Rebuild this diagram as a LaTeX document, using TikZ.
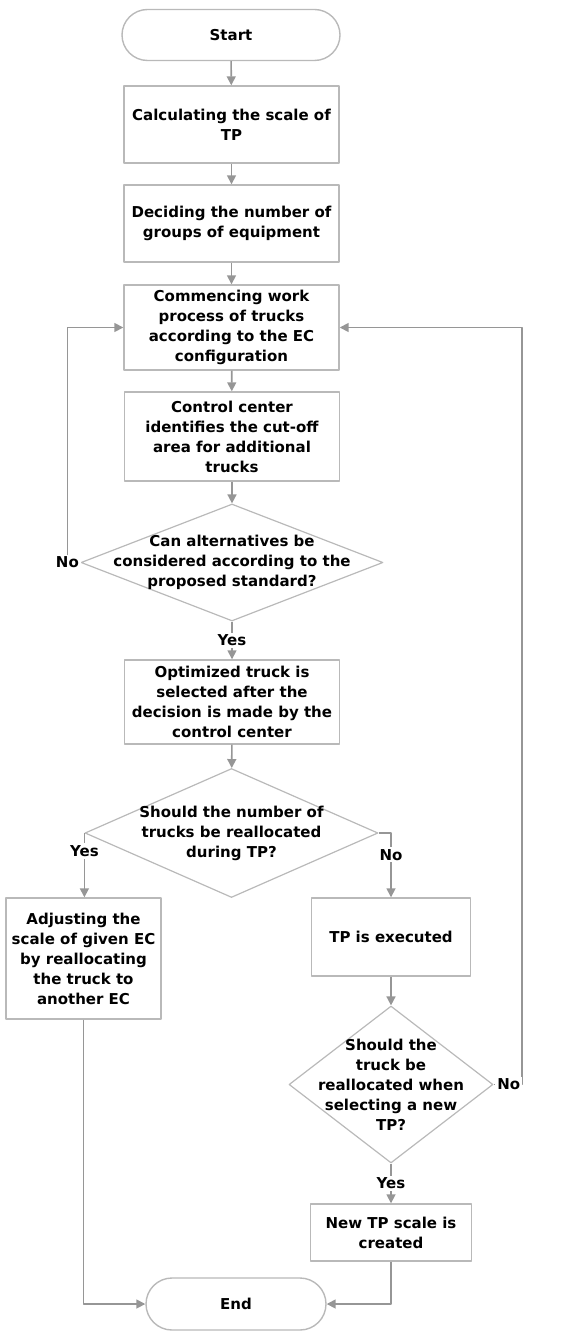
\documentclass[tikz,border=0pt]{standalone}
\usepackage{fontspec}
\setmainfont{DejaVu Sans}
\usetikzlibrary{arrows.meta,shapes.geometric}
\definecolor{linegray}{RGB}{150,150,150}
\definecolor{boxgray}{RGB}{185,185,185}
\begin{document}
\begin{tikzpicture}[x=0.5pt,y=-0.5pt, font=\fontsize{7.5}{10}\selectfont\bfseries, line join=round,
	box/.style={draw=boxgray, line width=0.7pt, align=center, inner sep=0pt, minimum width=107.5pt},
	term/.style={box, rounded corners=12.75pt, minimum width=109pt, minimum height=25.5pt},
	decision/.style={draw=boxgray, line width=0.6pt, diamond, inner sep=0pt},
	dtext/.style={align=center, inner sep=0pt},
	line/.style={draw=linegray, line width=0.8pt, -{Triangle[length=4.5pt,width=4.5pt]}},
	lbl/.style={fill=white, inner sep=1pt}]
	\useasboundingbox (0,0) rectangle (576,1331);
	% main column
	\node[term] (start) at (231,35) {Start};
	\node[box, minimum height=38.5pt] (b1) at (231.5,124.5) {Calculating the scale of\\TP};
	\node[box, minimum height=38.5pt] (b2) at (231.5,223.5) {Deciding the number of\\groups of equipment};
	\node[box, minimum height=42.5pt] (b3) at (231.5,327.5) {Commencing work\\process of trucks\\according to the EC\\configuration};
	\node[box, minimum height=44.5pt] (b4) at (232,436.5) {Control center\\identifies the cut-off\\area for additional\\trucks};
	\node[decision, minimum width=151pt, minimum height=58.5pt,
		label={[dtext]center:{Can alternatives be\\considered according to the\\proposed standard?}}] (d1) at (232,562.5) {};
	\node[box, minimum height=42pt] (b5) at (232,702) {Optimized truck is\\selected after the\\decision is made by the\\control center};
	\node[decision, minimum width=146.5pt, minimum height=64.5pt,
		label={[dtext]center:{Should the number of\\trucks be reallocated\\during TP?}}] (d2) at (231.5,833) {};
	% branches
	\node[box, minimum width=77.5pt, minimum height=60.5pt] (b6) at (83.5,958.5) {Adjusting the\\scale of given EC\\by reallocating\\the truck to\\another EC};
	\node[box, minimum width=79.5pt, minimum height=39pt] (b7) at (391,937) {TP is executed};
	\node[decision, minimum width=102pt, minimum height=78.5pt,
		label={[dtext]center:{Should the\\truck be\\reallocated when\\selecting a new\\TP?}}] (d3) at (391,1084.5) {};
	\node[box, minimum width=80.5pt, minimum height=28.5pt] (b8) at (391,1232.5) {New TP scale is\\created};
	\node[term, minimum width=90pt, minimum height=26pt, rounded corners=13pt] (end) at (236,1304) {End};
	% connectors
	\draw[line] (start) -- (b1);
	\draw[line] (b1) -- (b2);
	\draw[line] (b2) -- (b3);
	\draw[line] (b3) -- (b4);
	\draw[line] (b4) -- (d1);
	\draw[line] (d1.south) -- node[lbl]{Yes} (b5.north);
	\draw[line] (d1.west) -- ++(-13,0) node[lbl]{No} |- (b3.west);
	\draw[line] (b5) -- (d2);
	\draw[line] (d2.west) -- node[lbl, pos=0.28]{Yes} (d2.west |- b6.north);
	\draw[line] (d2.east) -| node[lbl, pos=0.67]{No} (b7.north);
	\draw[line] (b7) -- (d3);
	\draw[line] (d3.south) -- node[lbl]{Yes} (b8.north);
	\draw[line] (d3.east) -| node[lbl, pos=0.5, anchor=east, xshift=0.5pt]{No} (522,327.5) -- (b3.east);
	\draw[line] (b6.south) |- (end.west);
	\draw[line] (b8.south) |- (end.east);
\end{tikzpicture}
\end{document}
